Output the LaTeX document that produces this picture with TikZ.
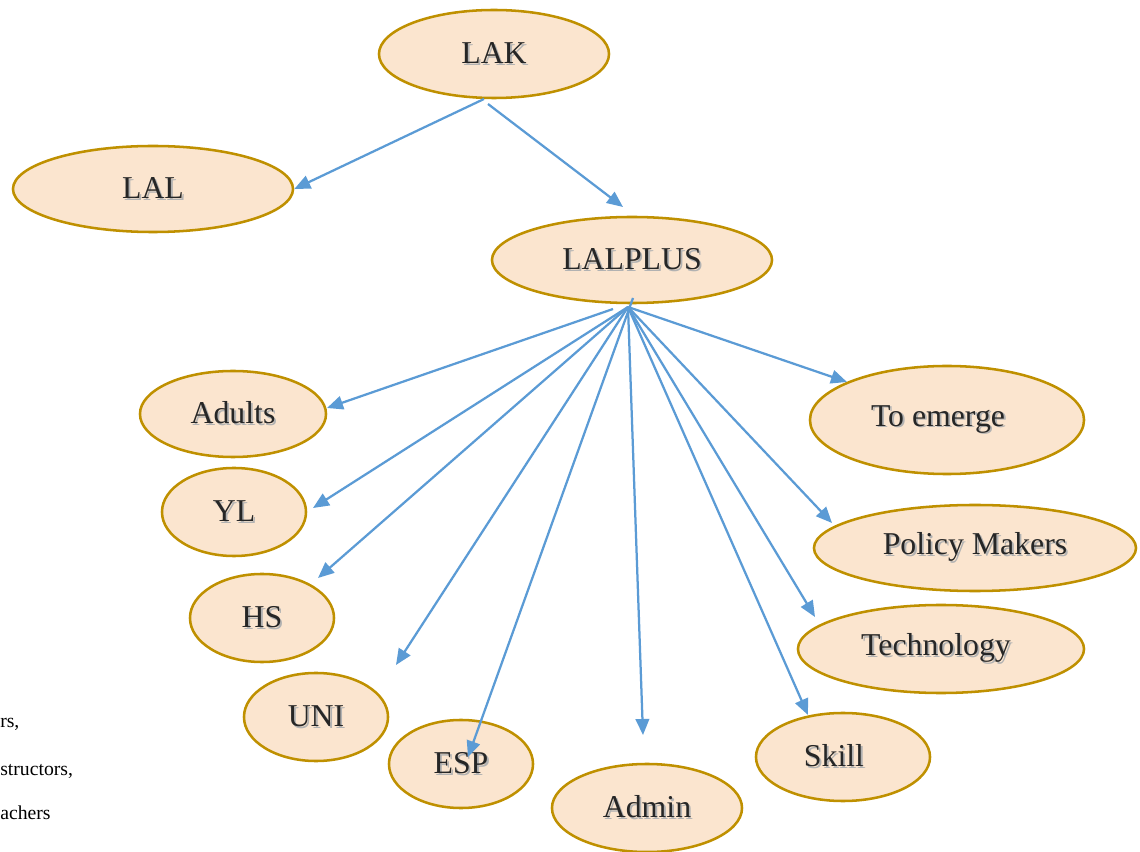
\documentclass[tikz,border=0pt]{standalone}
\usepackage{fontspec}
\setmainfont{Liberation Serif}
\usepackage{xcolor}
\usetikzlibrary{shapes.geometric, arrows.meta}
\definecolor{peach}{RGB}{251,229,207}
\definecolor{gold}{RGB}{191,144,0}
\definecolor{linkblue}{RGB}{91,155,213}
\definecolor{ink}{RGB}{38,38,38}
\newcommand{\shtext}[1]{\leavevmode\rlap{\kern1.3pt\raisebox{-1.3pt}{\textcolor{black!30}{#1}}}#1}

\begin{document}
\begin{tikzpicture}[x=0.025cm, y=-0.025cm, >={Triangle[length=4mm, width=3.4mm]},
    bubble/.style={ellipse, draw=gold, fill=peach, line width=1.8pt, inner sep=0pt,
        text=ink, font=\fontsize{22.6}{26}\selectfont},
    link/.style={->, draw=linkblue, fill=linkblue, line width=1.6pt},
    side/.style={anchor=base west, inner sep=0pt, font=\fontsize{14}{17}\selectfont}]
    \useasboundingbox (0,0) rectangle (1140,852);

    % Bong bóng
    \node[bubble, minimum width=5.75cm, minimum height=2.2cm] (lak) at (494,54) {\shtext{LAK}};
    \node[bubble, minimum width=7cm, minimum height=2.15cm] (lal) at (153,189) {\shtext{LAL}};
    \node[bubble, minimum width=7cm, minimum height=2.15cm] (lalplus) at (632,260) {\shtext{LALPLUS}};
    \node[bubble, minimum width=4.65cm, minimum height=2.15cm] (adults) at (233,414) {\shtext{Adults}};
    \node[bubble, minimum width=3.6cm, minimum height=2.2cm] (yl) at (234,512) {\shtext{YL}};
    \node[bubble, minimum width=3.6cm, minimum height=2.2cm] (hs) at (262,618) {\shtext{HS}};
    \node[bubble, minimum width=3.6cm, minimum height=2.2cm] (uni) at (316,717) {\shtext{UNI}};
    \node[bubble, minimum width=3.6cm, minimum height=2.2cm] (esp) at (461,764) {\shtext{ESP}};
    \node[bubble, minimum width=4.75cm, minimum height=2.2cm] (admin) at (647,808) {\shtext{Admin}};
    \node[bubble, minimum width=4.35cm, minimum height=2.2cm] (skill) at (843,757) {\shtext{Skill}\kern0.45cm};
    \node[bubble, minimum width=7.15cm, minimum height=2.2cm] (technology) at (941,649) {\shtext{Technology}\kern0.25cm};
    \node[bubble, minimum width=8.05cm, minimum height=2.15cm] (policy) at (975,548) {\shtext{Policy Makers}};
    \node[bubble, minimum width=6.85cm, minimum height=2.7cm] (emerge) at (947,420) {\shtext{To emerge}\kern0.45cm};

    % Chữ bị cắt bên trái
    \node[side] (rs) at (0,727) {rs,};
    \node[side] (structors) at (0,775) {structors,};
    \node[side] (achers) at (0,819) {achers};

    % Điểm đầu và điểm mũi tên
    \coordinate (kl) at (484,99);
    \coordinate (kp) at (488,104);
    \coordinate (fan) at (628,307);
    \coordinate (fanA) at (613,309);
    \coordinate (fanE) at (633,298);
    \coordinate (tplus) at (623,207);
    \coordinate (tadults) at (327,408);
    \coordinate (tyl) at (313,508);
    \coordinate (ths) at (318,578);
    \coordinate (tuni) at (396,665);
    \coordinate (tesp) at (468,757);
    \coordinate (tadmin) at (643,735);
    \coordinate (tskill) at (808,715);
    \coordinate (ttechnology) at (815,617);
    \coordinate (tpolicy) at (832,523);
    \coordinate (temerge) at (847,382);

    % Mũi tên
    \draw[link] (kl) -- (lal.east);
    \draw[link] (kp) -- (tplus);
    \draw[link] (fanA) -- (tadults);
    \draw[link] (fanE) -- (tesp);
    \foreach \n in {yl, hs, uni, admin, skill, technology, policy, emerge} {
        \draw[link] (fan) -- (t\n);
    }
\end{tikzpicture}
\end{document}
